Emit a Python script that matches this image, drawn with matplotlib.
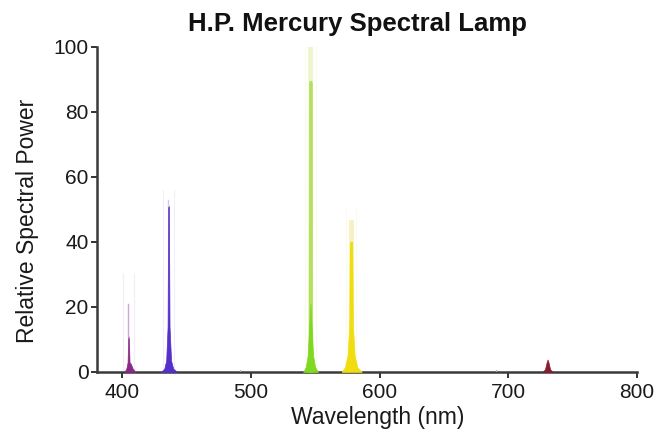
import matplotlib
matplotlib.use("Agg")
import matplotlib.pyplot as plt

plt.rcParams['font.family'] = ['Liberation Sans', 'DejaVu Sans']

# Peak profiles (wavelength nm, relative power)
violet_wl = [401.5, 403.0, 404.0, 404.4, 404.7, 405.0, 405.5, 406.5, 408.0, 410.0]
violet_pw = [0.0, 1.0, 3.0, 10.0, 11.0, 10.0, 3.0, 2.5, 1.0, 0.0]
violet_tip = [11.0, 21.0]

blue_wl = [430.0, 432.5, 434.0, 435.1, 435.5, 436.1, 436.6, 437.8, 439.5, 442.5]
blue_pw = [0.0, 1.0, 3.5, 14.0, 51.0, 51.0, 14.0, 3.5, 1.0, 0.0]
blue_tip = [51.0, 53.0]

green_base_wl = [540.5, 542.5, 544.0, 545.3, 546.1, 546.9, 548.2, 549.8, 552.0]
green_base_pw = [0.0, 1.5, 5.0, 15.0, 21.0, 15.0, 5.0, 1.5, 0.0]
green_wl = [544.6, 544.9, 546.1, 547.3, 547.6]
green_pw = [0.0, 89.0, 90.5, 89.0, 0.0]
green_tip = [90.5, 99.5]

yellow_wl = [570.5, 573.0, 575.0, 576.3, 576.6, 578.8, 579.2, 580.5, 582.5, 586.0]
yellow_pw = [0.0, 1.5, 5.0, 14.0, 40.0, 41.0, 14.0, 5.0, 1.5, 0.0]
yellow_tip = [41.0, 46.0]

red_wl = [726.5, 728.5, 729.8, 730.5, 731.2, 732.5, 734.5]
red_pw = [0.0, 0.8, 3.0, 3.8, 3.0, 0.8, 0.0]

minor_wl = [491.6, 690.7]
minor_pw = [0.6, 0.5]

x_ticks = [400, 500, 600, 700, 800]
y_ticks = [0, 20, 40, 60, 80, 100]

fig = plt.figure(figsize=(6.58, 4.30), dpi=100)
ax = fig.add_axes([0.147, 0.135, 0.821, 0.756])

# very faint glow lines around the strong peaks
for wl, top, c in [(404.7, 30, '#f4ecf6'), (435.8, 56, '#f0eefb'),
                   (546.1, 100, '#f8faea'), (577.7, 50, '#fcfbea')]:
    ax.plot([wl - 4, wl - 4], [0, top], color=c, lw=0.8, zorder=1)
    ax.plot([wl + 4, wl + 4], [0, top], color=c, lw=0.8, zorder=1)

ax.fill_between(violet_wl, violet_pw, color='#8a2888', lw=0.5, zorder=3)
ax.plot([404.7, 404.7], violet_tip, color='#c8a8d0', lw=1.0, zorder=3)

ax.fill_between(blue_wl, blue_pw, color='#5530c8', lw=0.5, zorder=3)
ax.plot([435.8, 435.8], blue_tip, color='#d0c8f0', lw=1.0, zorder=3)

ax.fill_between(green_wl, green_pw, color='#b4e05a', lw=0.5, zorder=3)
ax.fill_between(green_base_wl, green_base_pw, color='#80d820', lw=0.5, zorder=4)
ax.plot([546.1, 546.1], green_tip, color='#eef4cc', lw=3.5, zorder=3)

ax.fill_between(yellow_wl, yellow_pw, color='#f0dc10', lw=0.5, zorder=3)
ax.plot([577.7, 577.7], yellow_tip, color='#f6f0c4', lw=3.5, zorder=3)

ax.fill_between(red_wl, red_pw, color='#8a1c30', lw=0.5, zorder=3)

for wl, p in zip(minor_wl, minor_pw):
    ax.plot([wl, wl], [0, p], color='#b0b0b0', lw=0.8, zorder=3)

ax.set_xlim(380, 800)
ax.set_ylim(0, 100)
ax.set_xticks(x_ticks)
ax.set_yticks(y_ticks)
ax.tick_params(axis='both', direction='out', length=4, width=1.4,
               labelsize=15, colors='#333333', labelcolor='#1a1a1a', pad=2)
ax.tick_params(axis='x', pad=4)
for s in ['top', 'right']:
    ax.spines[s].set_visible(False)
for s in ['left', 'bottom']:
    ax.spines[s].set_linewidth(1.8)
    ax.spines[s].set_color('#3a3a3a')

ax.set_xlabel('Wavelength (nm)', fontsize=16.5, color='#1a1a1a')
ax.xaxis.set_label_coords(0.52, -0.105)
ax.set_ylabel('Relative Spectral Power', fontsize=16.5, color='#1a1a1a')
ax.yaxis.set_label_coords(-0.106, 0.465)
fig.text(0.543, 0.944, 'H.P. Mercury Spectral Lamp', ha='center', va='center',
         fontsize=18.5, fontweight='bold', color='#111111')

fig.savefig('out.png', dpi=100)
